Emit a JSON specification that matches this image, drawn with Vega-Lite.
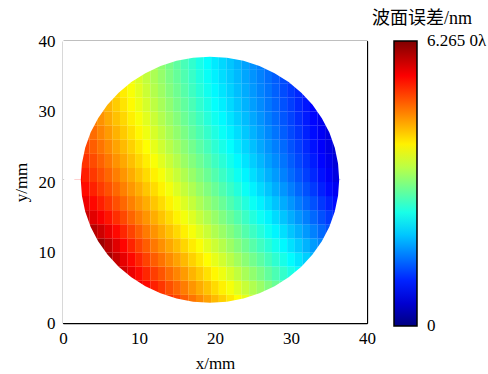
{
"$schema": "https://vega.github.io/schema/vega-lite/v6.json",
"width": 304, "height": 282,
"autosize": "none",
"padding": {"left": 63, "top": 41, "right": 121, "bottom": 51},
"title": {"text": "波面误差/nm", "anchor": "end", "frame": "group", "dx": 105, "offset": 4, "fontSize": 18, "font": "'Liberation Serif', 'Noto Sans CJK SC', serif", "fontWeight": "normal", "color": "black"},
"datasets": {
"cells": [
{"x":13,"y":3,"v":5.34},{"x":14,"y":3,"v":5.20},{"x":15,"y":3,"v":5.06},{"x":16,"y":3,"v":4.91},{"x":17,"y":3,"v":4.77},{"x":18,"y":3,"v":4.63},{"x":19,"y":3,"v":4.49},{"x":20,"y":3,"v":4.34},{"x":21,"y":3,"v":4.20},{"x":22,"y":3,"v":4.06},{"x":23,"y":3,"v":3.91},{"x":24,"y":3,"v":3.77},{"x":25,"y":3,"v":3.63},
{"x":10,"y":5,"v":5.58},{"x":11,"y":5,"v":5.43},{"x":12,"y":5,"v":5.29},{"x":13,"y":5,"v":5.15},{"x":14,"y":5,"v":5.00},{"x":15,"y":5,"v":4.86},{"x":16,"y":5,"v":4.72},{"x":17,"y":5,"v":4.57},{"x":18,"y":5,"v":4.43},{"x":19,"y":5,"v":4.29},{"x":20,"y":5,"v":4.14},{"x":21,"y":5,"v":4.00},{"x":22,"y":5,"v":3.86},{"x":23,"y":5,"v":3.72},{"x":24,"y":5,"v":3.57},{"x":25,"y":5,"v":3.43},{"x":26,"y":5,"v":3.29},{"x":27,"y":5,"v":3.14},{"x":28,"y":5,"v":3.00},{"x":29,"y":5,"v":2.86},
{"x":7,"y":7,"v":5.95},{"x":8,"y":7,"v":5.77},{"x":9,"y":7,"v":5.59},{"x":10,"y":7,"v":5.42},{"x":11,"y":7,"v":5.25},{"x":12,"y":7,"v":5.10},{"x":13,"y":7,"v":4.96},{"x":14,"y":7,"v":4.81},{"x":15,"y":7,"v":4.67},{"x":16,"y":7,"v":4.53},{"x":17,"y":7,"v":4.38},{"x":18,"y":7,"v":4.24},{"x":19,"y":7,"v":4.10},{"x":20,"y":7,"v":3.96},{"x":21,"y":7,"v":3.81},{"x":22,"y":7,"v":3.67},{"x":23,"y":7,"v":3.53},{"x":24,"y":7,"v":3.38},{"x":25,"y":7,"v":3.24},{"x":26,"y":7,"v":3.10},{"x":27,"y":7,"v":2.95},{"x":28,"y":7,"v":2.81},{"x":29,"y":7,"v":2.67},{"x":30,"y":7,"v":2.52},{"x":31,"y":7,"v":2.38},
{"x":6,"y":9,"v":6.05},{"x":7,"y":9,"v":5.84},{"x":8,"y":9,"v":5.63},{"x":9,"y":9,"v":5.44},{"x":10,"y":9,"v":5.26},{"x":11,"y":9,"v":5.08},{"x":12,"y":9,"v":4.92},{"x":13,"y":9,"v":4.78},{"x":14,"y":9,"v":4.63},{"x":15,"y":9,"v":4.49},{"x":16,"y":9,"v":4.35},{"x":17,"y":9,"v":4.20},{"x":18,"y":9,"v":4.06},{"x":19,"y":9,"v":3.92},{"x":20,"y":9,"v":3.77},{"x":21,"y":9,"v":3.63},{"x":22,"y":9,"v":3.49},{"x":23,"y":9,"v":3.34},{"x":24,"y":9,"v":3.20},{"x":25,"y":9,"v":3.06},{"x":26,"y":9,"v":2.92},{"x":27,"y":9,"v":2.77},{"x":28,"y":9,"v":2.63},{"x":29,"y":9,"v":2.49},{"x":30,"y":9,"v":2.34},{"x":31,"y":9,"v":2.20},{"x":32,"y":9,"v":2.06},{"x":33,"y":9,"v":1.91},
{"x":4,"y":11,"v":6.26},{"x":5,"y":11,"v":6.09},{"x":6,"y":11,"v":5.88},{"x":7,"y":11,"v":5.67},{"x":8,"y":11,"v":5.46},{"x":9,"y":11,"v":5.27},{"x":10,"y":11,"v":5.08},{"x":11,"y":11,"v":4.91},{"x":12,"y":11,"v":4.75},{"x":13,"y":11,"v":4.60},{"x":14,"y":11,"v":4.46},{"x":15,"y":11,"v":4.32},{"x":16,"y":11,"v":4.17},{"x":17,"y":11,"v":4.03},{"x":18,"y":11,"v":3.89},{"x":19,"y":11,"v":3.74},{"x":20,"y":11,"v":3.60},{"x":21,"y":11,"v":3.46},{"x":22,"y":11,"v":3.31},{"x":23,"y":11,"v":3.17},{"x":24,"y":11,"v":3.03},{"x":25,"y":11,"v":2.88},{"x":26,"y":11,"v":2.74},{"x":27,"y":11,"v":2.60},{"x":28,"y":11,"v":2.46},{"x":29,"y":11,"v":2.31},{"x":30,"y":11,"v":2.17},{"x":31,"y":11,"v":2.03},{"x":32,"y":11,"v":1.88},{"x":33,"y":11,"v":1.74},{"x":34,"y":11,"v":1.60},
{"x":3,"y":13,"v":6.07},{"x":4,"y":13,"v":5.94},{"x":5,"y":13,"v":5.79},{"x":6,"y":13,"v":5.61},{"x":7,"y":13,"v":5.43},{"x":8,"y":13,"v":5.25},{"x":9,"y":13,"v":5.07},{"x":10,"y":13,"v":4.90},{"x":11,"y":13,"v":4.73},{"x":12,"y":13,"v":4.58},{"x":13,"y":13,"v":4.44},{"x":14,"y":13,"v":4.29},{"x":15,"y":13,"v":4.15},{"x":16,"y":13,"v":4.01},{"x":17,"y":13,"v":3.86},{"x":18,"y":13,"v":3.72},{"x":19,"y":13,"v":3.58},{"x":20,"y":13,"v":3.43},{"x":21,"y":13,"v":3.29},{"x":22,"y":13,"v":3.15},{"x":23,"y":13,"v":3.01},{"x":24,"y":13,"v":2.86},{"x":25,"y":13,"v":2.72},{"x":26,"y":13,"v":2.58},{"x":27,"y":13,"v":2.43},{"x":28,"y":13,"v":2.29},{"x":29,"y":13,"v":2.15},{"x":30,"y":13,"v":2.00},{"x":31,"y":13,"v":1.86},{"x":32,"y":13,"v":1.72},{"x":33,"y":13,"v":1.57},{"x":34,"y":13,"v":1.43},{"x":35,"y":13,"v":1.29},
{"x":3,"y":15,"v":5.80},{"x":4,"y":15,"v":5.66},{"x":5,"y":15,"v":5.52},{"x":6,"y":15,"v":5.36},{"x":7,"y":15,"v":5.20},{"x":8,"y":15,"v":5.04},{"x":9,"y":15,"v":4.87},{"x":10,"y":15,"v":4.72},{"x":11,"y":15,"v":4.57},{"x":12,"y":15,"v":4.42},{"x":13,"y":15,"v":4.28},{"x":14,"y":15,"v":4.14},{"x":15,"y":15,"v":3.99},{"x":16,"y":15,"v":3.85},{"x":17,"y":15,"v":3.71},{"x":18,"y":15,"v":3.56},{"x":19,"y":15,"v":3.42},{"x":20,"y":15,"v":3.28},{"x":21,"y":15,"v":3.13},{"x":22,"y":15,"v":2.99},{"x":23,"y":15,"v":2.85},{"x":24,"y":15,"v":2.71},{"x":25,"y":15,"v":2.56},{"x":26,"y":15,"v":2.42},{"x":27,"y":15,"v":2.28},{"x":28,"y":15,"v":2.13},{"x":29,"y":15,"v":1.99},{"x":30,"y":15,"v":1.85},{"x":31,"y":15,"v":1.70},{"x":32,"y":15,"v":1.56},{"x":33,"y":15,"v":1.42},{"x":34,"y":15,"v":1.27},{"x":35,"y":15,"v":1.13},{"x":36,"y":15,"v":0.99},
{"x":2,"y":17,"v":5.72},{"x":3,"y":17,"v":5.58},{"x":4,"y":17,"v":5.44},{"x":5,"y":17,"v":5.30},{"x":6,"y":17,"v":5.15},{"x":7,"y":17,"v":5.00},{"x":8,"y":17,"v":4.85},{"x":9,"y":17,"v":4.70},{"x":10,"y":17,"v":4.56},{"x":11,"y":17,"v":4.42},{"x":12,"y":17,"v":4.27},{"x":13,"y":17,"v":4.13},{"x":14,"y":17,"v":3.99},{"x":15,"y":17,"v":3.84},{"x":16,"y":17,"v":3.70},{"x":17,"y":17,"v":3.56},{"x":18,"y":17,"v":3.41},{"x":19,"y":17,"v":3.27},{"x":20,"y":17,"v":3.13},{"x":21,"y":17,"v":2.99},{"x":22,"y":17,"v":2.84},{"x":23,"y":17,"v":2.70},{"x":24,"y":17,"v":2.56},{"x":25,"y":17,"v":2.41},{"x":26,"y":17,"v":2.27},{"x":27,"y":17,"v":2.13},{"x":28,"y":17,"v":1.98},{"x":29,"y":17,"v":1.84},{"x":30,"y":17,"v":1.70},{"x":31,"y":17,"v":1.55},{"x":32,"y":17,"v":1.41},{"x":33,"y":17,"v":1.27},{"x":34,"y":17,"v":1.12},{"x":35,"y":17,"v":0.98},{"x":36,"y":17,"v":0.84},
{"x":2,"y":19,"v":5.56},{"x":3,"y":19,"v":5.42},{"x":4,"y":19,"v":5.28},{"x":5,"y":19,"v":5.13},{"x":6,"y":19,"v":4.99},{"x":7,"y":19,"v":4.85},{"x":8,"y":19,"v":4.70},{"x":9,"y":19,"v":4.56},{"x":10,"y":19,"v":4.42},{"x":11,"y":19,"v":4.27},{"x":12,"y":19,"v":4.13},{"x":13,"y":19,"v":3.99},{"x":14,"y":19,"v":3.85},{"x":15,"y":19,"v":3.70},{"x":16,"y":19,"v":3.56},{"x":17,"y":19,"v":3.42},{"x":18,"y":19,"v":3.27},{"x":19,"y":19,"v":3.13},{"x":20,"y":19,"v":2.99},{"x":21,"y":19,"v":2.84},{"x":22,"y":19,"v":2.70},{"x":23,"y":19,"v":2.56},{"x":24,"y":19,"v":2.41},{"x":25,"y":19,"v":2.27},{"x":26,"y":19,"v":2.13},{"x":27,"y":19,"v":1.99},{"x":28,"y":19,"v":1.84},{"x":29,"y":19,"v":1.70},{"x":30,"y":19,"v":1.56},{"x":31,"y":19,"v":1.41},{"x":32,"y":19,"v":1.27},{"x":33,"y":19,"v":1.13},{"x":34,"y":19,"v":0.98},{"x":35,"y":19,"v":0.84},{"x":36,"y":19,"v":0.70},
{"x":2,"y":21,"v":5.43},{"x":3,"y":21,"v":5.29},{"x":4,"y":21,"v":5.14},{"x":5,"y":21,"v":5.00},{"x":6,"y":21,"v":4.86},{"x":7,"y":21,"v":4.71},{"x":8,"y":21,"v":4.57},{"x":9,"y":21,"v":4.43},{"x":10,"y":21,"v":4.28},{"x":11,"y":21,"v":4.14},{"x":12,"y":21,"v":4.00},{"x":13,"y":21,"v":3.86},{"x":14,"y":21,"v":3.71},{"x":15,"y":21,"v":3.57},{"x":16,"y":21,"v":3.43},{"x":17,"y":21,"v":3.28},{"x":18,"y":21,"v":3.14},{"x":19,"y":21,"v":3.00},{"x":20,"y":21,"v":2.85},{"x":21,"y":21,"v":2.71},{"x":22,"y":21,"v":2.57},{"x":23,"y":21,"v":2.43},{"x":24,"y":21,"v":2.29},{"x":25,"y":21,"v":2.15},{"x":26,"y":21,"v":2.01},{"x":27,"y":21,"v":1.87},{"x":28,"y":21,"v":1.73},{"x":29,"y":21,"v":1.58},{"x":30,"y":21,"v":1.44},{"x":31,"y":21,"v":1.30},{"x":32,"y":21,"v":1.16},{"x":33,"y":21,"v":1.02},{"x":34,"y":21,"v":0.88},{"x":35,"y":21,"v":0.74},{"x":36,"y":21,"v":0.60},
{"x":2,"y":23,"v":5.31},{"x":3,"y":23,"v":5.17},{"x":4,"y":23,"v":5.02},{"x":5,"y":23,"v":4.88},{"x":6,"y":23,"v":4.74},{"x":7,"y":23,"v":4.59},{"x":8,"y":23,"v":4.45},{"x":9,"y":23,"v":4.31},{"x":10,"y":23,"v":4.16},{"x":11,"y":23,"v":4.02},{"x":12,"y":23,"v":3.88},{"x":13,"y":23,"v":3.73},{"x":14,"y":23,"v":3.59},{"x":15,"y":23,"v":3.45},{"x":16,"y":23,"v":3.30},{"x":17,"y":23,"v":3.16},{"x":18,"y":23,"v":3.02},{"x":19,"y":23,"v":2.88},{"x":20,"y":23,"v":2.73},{"x":21,"y":23,"v":2.60},{"x":22,"y":23,"v":2.46},{"x":23,"y":23,"v":2.32},{"x":24,"y":23,"v":2.18},{"x":25,"y":23,"v":2.05},{"x":26,"y":23,"v":1.91},{"x":27,"y":23,"v":1.77},{"x":28,"y":23,"v":1.64},{"x":29,"y":23,"v":1.50},{"x":30,"y":23,"v":1.36},{"x":31,"y":23,"v":1.22},{"x":32,"y":23,"v":1.09},{"x":33,"y":23,"v":0.95},{"x":34,"y":23,"v":0.81},{"x":35,"y":23,"v":0.68},{"x":36,"y":23,"v":0.54},
{"x":3,"y":25,"v":5.06},{"x":4,"y":25,"v":4.91},{"x":5,"y":25,"v":4.77},{"x":6,"y":25,"v":4.63},{"x":7,"y":25,"v":4.48},{"x":8,"y":25,"v":4.34},{"x":9,"y":25,"v":4.20},{"x":10,"y":25,"v":4.05},{"x":11,"y":25,"v":3.91},{"x":12,"y":25,"v":3.77},{"x":13,"y":25,"v":3.62},{"x":14,"y":25,"v":3.48},{"x":15,"y":25,"v":3.34},{"x":16,"y":25,"v":3.20},{"x":17,"y":25,"v":3.05},{"x":18,"y":25,"v":2.91},{"x":19,"y":25,"v":2.77},{"x":20,"y":25,"v":2.62},{"x":21,"y":25,"v":2.49},{"x":22,"y":25,"v":2.36},{"x":23,"y":25,"v":2.22},{"x":24,"y":25,"v":2.09},{"x":25,"y":25,"v":1.96},{"x":26,"y":25,"v":1.82},{"x":27,"y":25,"v":1.69},{"x":28,"y":25,"v":1.56},{"x":29,"y":25,"v":1.43},{"x":30,"y":25,"v":1.29},{"x":31,"y":25,"v":1.16},{"x":32,"y":25,"v":1.03},{"x":33,"y":25,"v":0.89},{"x":34,"y":25,"v":0.76},{"x":35,"y":25,"v":0.63},{"x":36,"y":25,"v":0.49},
{"x":3,"y":27,"v":4.96},{"x":4,"y":27,"v":4.82},{"x":5,"y":27,"v":4.67},{"x":6,"y":27,"v":4.53},{"x":7,"y":27,"v":4.39},{"x":8,"y":27,"v":4.24},{"x":9,"y":27,"v":4.10},{"x":10,"y":27,"v":3.96},{"x":11,"y":27,"v":3.81},{"x":12,"y":27,"v":3.67},{"x":13,"y":27,"v":3.53},{"x":14,"y":27,"v":3.38},{"x":15,"y":27,"v":3.24},{"x":16,"y":27,"v":3.10},{"x":17,"y":27,"v":2.95},{"x":18,"y":27,"v":2.81},{"x":19,"y":27,"v":2.67},{"x":20,"y":27,"v":2.53},{"x":21,"y":27,"v":2.40},{"x":22,"y":27,"v":2.27},{"x":23,"y":27,"v":2.14},{"x":24,"y":27,"v":2.01},{"x":25,"y":27,"v":1.88},{"x":26,"y":27,"v":1.75},{"x":27,"y":27,"v":1.62},{"x":28,"y":27,"v":1.49},{"x":29,"y":27,"v":1.36},{"x":30,"y":27,"v":1.23},{"x":31,"y":27,"v":1.11},{"x":32,"y":27,"v":0.98},{"x":33,"y":27,"v":0.85},{"x":34,"y":27,"v":0.72},{"x":35,"y":27,"v":0.59},
{"x":4,"y":29,"v":4.73},{"x":5,"y":29,"v":4.59},{"x":6,"y":29,"v":4.44},{"x":7,"y":29,"v":4.30},{"x":8,"y":29,"v":4.16},{"x":9,"y":29,"v":4.01},{"x":10,"y":29,"v":3.87},{"x":11,"y":29,"v":3.73},{"x":12,"y":29,"v":3.59},{"x":13,"y":29,"v":3.44},{"x":14,"y":29,"v":3.30},{"x":15,"y":29,"v":3.16},{"x":16,"y":29,"v":3.01},{"x":17,"y":29,"v":2.87},{"x":18,"y":29,"v":2.73},{"x":19,"y":29,"v":2.58},{"x":20,"y":29,"v":2.44},{"x":21,"y":29,"v":2.32},{"x":22,"y":29,"v":2.19},{"x":23,"y":29,"v":2.06},{"x":24,"y":29,"v":1.94},{"x":25,"y":29,"v":1.81},{"x":26,"y":29,"v":1.69},{"x":27,"y":29,"v":1.56},{"x":28,"y":29,"v":1.44},{"x":29,"y":29,"v":1.31},{"x":30,"y":29,"v":1.19},{"x":31,"y":29,"v":1.06},{"x":32,"y":29,"v":0.94},{"x":33,"y":29,"v":0.81},{"x":34,"y":29,"v":0.69},{"x":35,"y":29,"v":0.56},
{"x":5,"y":31,"v":4.51},{"x":6,"y":31,"v":4.37},{"x":7,"y":31,"v":4.23},{"x":8,"y":31,"v":4.08},{"x":9,"y":31,"v":3.94},{"x":10,"y":31,"v":3.80},{"x":11,"y":31,"v":3.65},{"x":12,"y":31,"v":3.51},{"x":13,"y":31,"v":3.37},{"x":14,"y":31,"v":3.23},{"x":15,"y":31,"v":3.08},{"x":16,"y":31,"v":2.94},{"x":17,"y":31,"v":2.80},{"x":18,"y":31,"v":2.65},{"x":19,"y":31,"v":2.51},{"x":20,"y":31,"v":2.37},{"x":21,"y":31,"v":2.25},{"x":22,"y":31,"v":2.12},{"x":23,"y":31,"v":2.00},{"x":24,"y":31,"v":1.88},{"x":25,"y":31,"v":1.76},{"x":26,"y":31,"v":1.64},{"x":27,"y":31,"v":1.52},{"x":28,"y":31,"v":1.40},{"x":29,"y":31,"v":1.28},{"x":30,"y":31,"v":1.16},{"x":31,"y":31,"v":1.03},{"x":32,"y":31,"v":0.91},{"x":33,"y":31,"v":0.79},
{"x":7,"y":33,"v":4.17},{"x":8,"y":33,"v":4.02},{"x":9,"y":33,"v":3.88},{"x":10,"y":33,"v":3.74},{"x":11,"y":33,"v":3.59},{"x":12,"y":33,"v":3.45},{"x":13,"y":33,"v":3.31},{"x":14,"y":33,"v":3.16},{"x":15,"y":33,"v":3.02},{"x":16,"y":33,"v":2.88},{"x":17,"y":33,"v":2.73},{"x":18,"y":33,"v":2.59},{"x":19,"y":33,"v":2.45},{"x":20,"y":33,"v":2.31},{"x":21,"y":33,"v":2.19},{"x":22,"y":33,"v":2.07},{"x":23,"y":33,"v":1.95},{"x":24,"y":33,"v":1.84},{"x":25,"y":33,"v":1.72},{"x":26,"y":33,"v":1.60},{"x":27,"y":33,"v":1.49},{"x":28,"y":33,"v":1.37},{"x":29,"y":33,"v":1.25},{"x":30,"y":33,"v":1.13},{"x":31,"y":33,"v":1.02},{"x":32,"y":33,"v":0.90},
{"x":9,"y":35,"v":3.83},{"x":10,"y":35,"v":3.69},{"x":11,"y":35,"v":3.54},{"x":12,"y":35,"v":3.40},{"x":13,"y":35,"v":3.26},{"x":14,"y":35,"v":3.11},{"x":15,"y":35,"v":2.97},{"x":16,"y":35,"v":2.83},{"x":17,"y":35,"v":2.69},{"x":18,"y":35,"v":2.54},{"x":19,"y":35,"v":2.40},{"x":20,"y":35,"v":2.26},{"x":21,"y":35,"v":2.14},{"x":22,"y":35,"v":2.03},{"x":23,"y":35,"v":1.92},{"x":24,"y":35,"v":1.80},{"x":25,"y":35,"v":1.69},{"x":26,"y":35,"v":1.58},{"x":27,"y":35,"v":1.46},{"x":28,"y":35,"v":1.35},{"x":29,"y":35,"v":1.24},{"x":30,"y":35,"v":1.13},
{"x":12,"y":37,"v":3.36},{"x":13,"y":37,"v":3.22},{"x":14,"y":37,"v":3.08},{"x":15,"y":37,"v":2.93},{"x":16,"y":37,"v":2.79},{"x":17,"y":37,"v":2.65},{"x":18,"y":37,"v":2.50},{"x":19,"y":37,"v":2.36},{"x":20,"y":37,"v":2.22},{"x":21,"y":37,"v":2.11},{"x":22,"y":37,"v":2.00},{"x":23,"y":37,"v":1.89},{"x":24,"y":37,"v":1.78},{"x":25,"y":37,"v":1.67},{"x":26,"y":37,"v":1.56},{"x":27,"y":37,"v":1.45}
],
"rim": [
{"mx":0,"top":20.33,"bot":20.33},
{"mx":2.34,"top":20.33,"bot":20.33},
{"mx":2.49,"top":22.61,"bot":18.05},
{"mx":2.92,"top":24.85,"bot":15.81},
{"mx":3.63,"top":27.01,"bot":13.65},
{"mx":4.62,"top":29.06,"bot":11.61},
{"mx":5.85,"top":30.95,"bot":9.71},
{"mx":7.32,"top":32.67,"bot":7.99},
{"mx":8.99,"top":34.17,"bot":6.49},
{"mx":10.84,"top":35.44,"bot":5.22},
{"mx":12.83,"top":36.45,"bot":4.21},
{"mx":14.94,"top":37.19,"bot":3.48},
{"mx":17.12,"top":37.63,"bot":3.03},
{"mx":19.34,"top":37.78,"bot":2.88},
{"mx":21.56,"top":37.63,"bot":3.03},
{"mx":23.74,"top":37.19,"bot":3.48},
{"mx":25.85,"top":36.45,"bot":4.21},
{"mx":27.84,"top":35.44,"bot":5.22},
{"mx":29.69,"top":34.17,"bot":6.49},
{"mx":31.36,"top":32.67,"bot":7.99},
{"mx":32.83,"top":30.95,"bot":9.71},
{"mx":34.06,"top":29.06,"bot":11.61},
{"mx":35.05,"top":27.01,"bot":13.65},
{"mx":35.76,"top":24.85,"bot":15.81},
{"mx":36.19,"top":22.61,"bot":18.05},
{"mx":36.34,"top":20.33,"bot":20.33},
{"mx":40,"top":20.33,"bot":20.33}
]
},
"layer": [
{
"data": {"name": "cells"},
"mark": {"type": "rect", "width": 7.75, "height": 14.25},
"encoding": {
"x": {"field": "x", "type": "quantitative", "scale": {"domain": [0, 40], "nice": false, "zero": false},
"axis": {"orient": "bottom", "values": [0,5,10,15,20,25,30,35,40], "labelExpr": "datum.value % 10 == 0 ? datum.label : ''", "title": "x/mm", "labelPadding": 12, "titlePadding": 9}},
"y": {"field": "y", "type": "quantitative", "scale": {"domain": [0, 40], "nice": false, "zero": false},
"axis": {"orient": "left", "values": [0,5,10,15,20,25,30,35,40], "labelExpr": "datum.value % 10 == 0 ? datum.label : ''", "title": "y/mm", "labelPadding": 13, "titlePadding": 8}},
"color": {"field": "v", "type": "quantitative",
"scale": {"domain": [0,0.7831,1.5663,2.3494,3.1325,3.9156,4.6988,5.4819,6.265], "range": ["#000080","#0000ff","#0080ff","#00ffff","#80ff80","#ffff00","#ff8000","#ff0000","#800000"], "interpolate": "rgb", "clamp": true},
"legend": {"orient": "right", "offset": 26, "padding": 0, "title": null, "gradientLength": 285, "gradientThickness": 23, "gradientStrokeColor": "black", "gradientStrokeWidth": 1.5, "values": [0.0005, 6.2645], "labelExpr": "datum.value > 3 ? '6.265 0λ' : '0'", "labelFont": "'Liberation Serif', 'DejaVu Serif', serif", "labelFontSize": 17, "labelColor": "black", "labelOffset": 10}}
}
},
{
"data": {"name": "rim"},
"mark": {"type": "area", "color": "white", "opacity": 1},
"encoding": {
"x": {"field": "mx", "type": "quantitative", "axis": {"orient": "top", "values": [0,5,10,15,20,25,30,35,40], "labels": false, "title": null}},
"y": {"field": "top", "type": "quantitative", "axis": {"orient": "right", "values": [0,5,10,15,20,25,30,35,40], "labels": false, "title": null}},
"y2": {"datum": 40}
}
},
{
"data": {"name": "rim"},
"mark": {"type": "area", "color": "white", "opacity": 1},
"encoding": {
"x": {"field": "mx", "type": "quantitative", "axis": null},
"y": {"field": "bot", "type": "quantitative", "axis": null},
"y2": {"datum": 0}
}
}
],
"resolve": {"axis": {"x": "independent", "y": "independent"}},
"config": {
"view": {"stroke": null},
"font": "'Liberation Serif', 'DejaVu Serif', serif",
"axis": {"grid": false, "domainColor": "black", "domainWidth": 1.3, "tickColor": "black", "tickWidth": 1, "tickSize": -5, "labelColor": "black", "labelFont": "'Liberation Serif', 'DejaVu Serif', serif", "labelFontSize": 17, "titleFont": "'Liberation Serif', 'DejaVu Serif', serif", "titleFontSize": 17, "titleFontWeight": "normal", "titleColor": "black", "labelFlush": false, "zindex": 1}
}
}
